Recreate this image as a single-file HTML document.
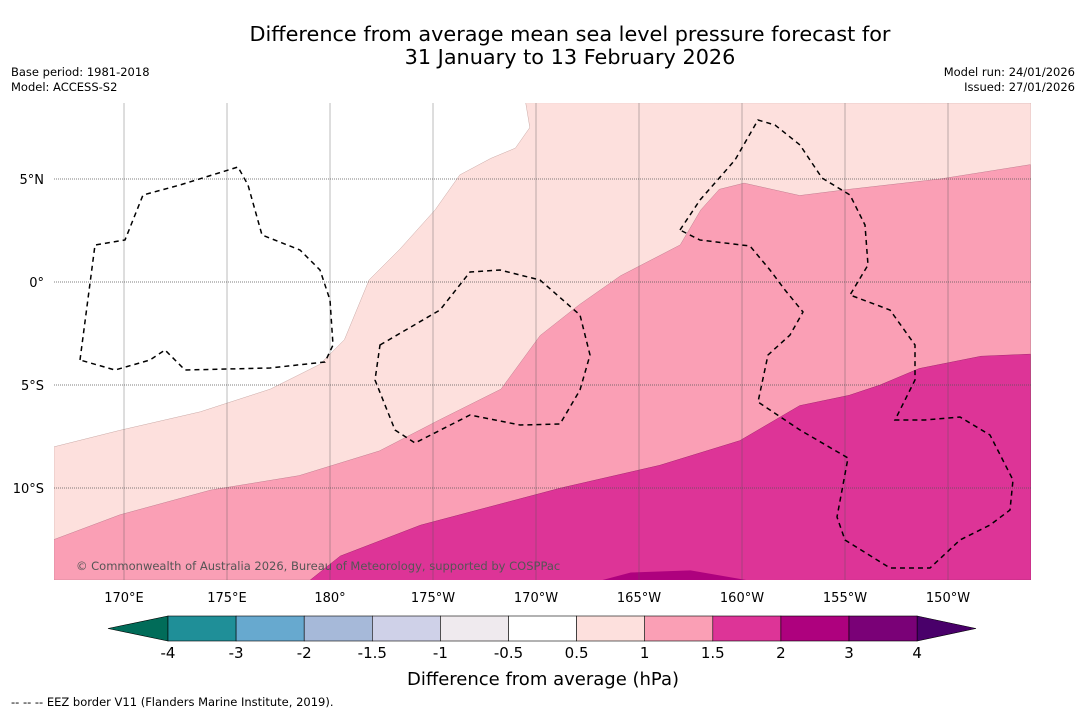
<!DOCTYPE html>
<html><head><meta charset="utf-8"><style>
body{margin:0;background:#fff;font-family:"Liberation Sans","DejaVu Sans",sans-serif;}
svg text{font-family:"DejaVu Sans","Liberation Sans",sans-serif;}
</style></head><body>
<svg id="chart" width="1085" height="713" xmlns="http://www.w3.org/2000/svg">
<text x="570" y="41" font-size="20.8" text-anchor="middle">Difference from average mean sea level pressure forecast for</text>
<text x="570" y="64" font-size="20.8" text-anchor="middle">31 January to 13 February 2026</text>
<text x="11" y="76" font-size="11.5">Base period: 1981-2018</text>
<text x="11" y="91" font-size="11.5">Model: ACCESS-S2</text>
<text x="1075" y="76" font-size="11.5" text-anchor="end">Model run: 24/01/2026</text>
<text x="1075" y="91" font-size="11.5" text-anchor="end">Issued: 27/01/2026</text>
<defs><clipPath id="mapclip"><rect x="54" y="103" width="977" height="477"/></clipPath></defs>
<g id="map" clip-path="url(#mapclip)"><rect x="54" y="103" width="977" height="477" fill="#ffffff"/></g>
<g id="grid"></g>
<g id="eez" clip-path="url(#mapclip)" fill="none" stroke="#000" stroke-width="1.5" stroke-dasharray="5,4">
<path d="M80,360 L95,245 L125,240 L143,195 L180,185 L238,167 L248,185 L262,235 L300,250 L320,270 L330,300 L333,345 L325,362 L270,368 L185,370 L165,350 L150,360 L115,370 Z"/>
<path d="M380,345 L440,310 L470,272 L500,270 L540,280 L580,315 L590,355 L580,390 L560,424 L520,425 L470,415 L415,443 L395,430 L375,380 Z"/>
<path d="M680,230 L700,200 L735,160 L758,120 L775,125 L800,145 L822,178 L850,195 L865,225 L868,265 L850,295 L890,310 L915,345 L915,380 L895,420 L925,420 L960,417 L990,435 L1013,480 L1010,510 L990,525 L960,540 L930,568 L890,568 L845,540 L837,517 L848,458 L800,430 L758,402 L768,355 L790,335 L803,312 L785,290 L770,270 L750,246 L700,240 Z"/>
</g>
<text x="76" y="570" font-size="11.5" fill="#555">© Commonwealth of Australia 2026, Bureau of Meteorology, supported by COSPPac</text>
<g id="colorbar"></g>
<text x="543" y="685" font-size="18" text-anchor="middle">Difference from average (hPa)</text>
<text x="11" y="706" font-size="11.5">--  --  -- EEZ border V11 (Flanders Marine Institute, 2019).</text>
</svg>
<script>
const lonTicks=[170,175,180,185,190,195,200,205,210];
const lonLabels=["170°E","175°E","180°","175°W","170°W","165°W","160°W","155°W","150°W"];
const latTicks=[5,0,-5,-10];
const latLabels=["5°N","0°","5°S","10°S"];
const c05Lon=[166.6,169.8,173.7,177.1,179.5,180.7,181.9,183.4,185.1,186.3,187.8,189.0,189.7,189.5];
const c05Lat=[-8.0,-7.2,-6.3,-5.2,-4.0,-2.8,0.1,1.6,3.5,5.2,6.0,6.5,7.5,8.7];
const c10Lon=[166.6,169.8,174.2,178.5,182.4,185.3,188.3,190.2,192.1,194.1,197.0,198.0,198.9,200.1,202.8,205.2,209.6,214.0];
const c10Lat=[-12.5,-11.3,-10.1,-9.4,-8.2,-6.7,-5.2,-2.6,-1.1,0.3,1.8,3.5,4.5,4.8,4.2,4.5,5.0,5.7];
const c15Lon=[179.0,180.5,184.4,191.2,196.0,199.9,202.8,205.2,206.7,208.6,211.6,214.0];
const c15Lat=[-14.5,-13.3,-11.8,-10.0,-8.9,-7.7,-6.0,-5.5,-5.0,-4.2,-3.6,-3.5];
const c20Lon=[193.1,194.6,197.5,200.4];
const c20Lat=[-14.5,-14.1,-14.0,-14.5];
const cbLevels=["-4","-3","-2","-1.5","-1","-0.5","0.5","1","1.5","2","3","4"];
const cbColors=["#1f8f98","#67a9cf","#a6b9d9","#cfd1e8","#efeaee","#ffffff","#fde0dd","#fa9fb5","#dd3497","#ae017e","#7a0177"];
const NS="http://www.w3.org/2000/svg";
const X=lon=>124+(lon-170)*20.6, Y=lat=>282-lat*20.6;
function mk(t,a,p){const e=document.createElementNS(NS,t);for(const k in a)e.setAttribute(k,a[k]);p.appendChild(e);return e;}
const map=document.getElementById('map');
function pts(lo,la){return lo.map((v,i)=>X(v).toFixed(1)+","+Y(la[i]).toFixed(1)).join(" ");}
let p=mk('polygon',{points:pts(c05Lon,c05Lat)+" 1031,103 1031,580 54,580",fill:"#fde0dd",stroke:"#c9a9a6","stroke-width":0.5},map);


p=mk('polygon',{points:pts(c10Lon,c10Lat)+" 1031,580 54,580",fill:"#fa9fb5",stroke:"#c27f91","stroke-width":0.5},map);


p=mk('polygon',{points:pts(c15Lon,c15Lat)+" 1031,580",fill:"#dd3497",stroke:"#a5286f","stroke-width":0.5},map);


p=mk('polygon',{points:pts(c20Lon,c20Lat),fill:"#ae017e"},map);


const grid=document.getElementById('grid');
lonTicks.forEach((v,i)=>{
 let l=mk('line',{x1:X(v),x2:X(v),y1:103,y2:580,stroke:"#555","stroke-width":0.4},grid);
 
 
 let t=mk('text',{x:X(v),y:602,"font-size":13,"text-anchor":"middle"},grid);t.textContent=lonLabels[i];
 
 
});
latTicks.forEach((v,i)=>{
 let l=mk('line',{x1:54,x2:1031,y1:Y(v),y2:Y(v),stroke:"#555","stroke-width":0.7,"stroke-dasharray":"1,1"},grid);
 
 
 let t=mk('text',{x:44,y:Y(v)+5,"font-size":13,"text-anchor":"end"},grid);t.textContent=latLabels[i];
 
 
});
const cb=document.getElementById('colorbar');
const x0=168,w=68.1,y0=616,h=25;
let tl=mk('polygon',{points:`108,628.5 ${x0},${y0} ${x0},${y0+h}`,fill:"#016c59",stroke:"#000","stroke-width":0.6},cb);


let tr=mk('polygon',{points:`${x0+w*11},${y0} 976,628.5 ${x0+w*11},${y0+h}`,fill:"#49006a",stroke:"#000","stroke-width":0.6},cb);


cbColors.forEach((c,i)=>{
 let r=mk('rect',{x:x0+i*w,y:y0,width:w,height:h,fill:c,stroke:"#000","stroke-width":0.6},cb);
 
 
});
cbLevels.forEach((s,i)=>{
 let t=mk('text',{x:x0+i*w,y:658,"font-size":15,"text-anchor":"middle"},cb);t.textContent=s;
 
 
});
</script>
</body></html>
